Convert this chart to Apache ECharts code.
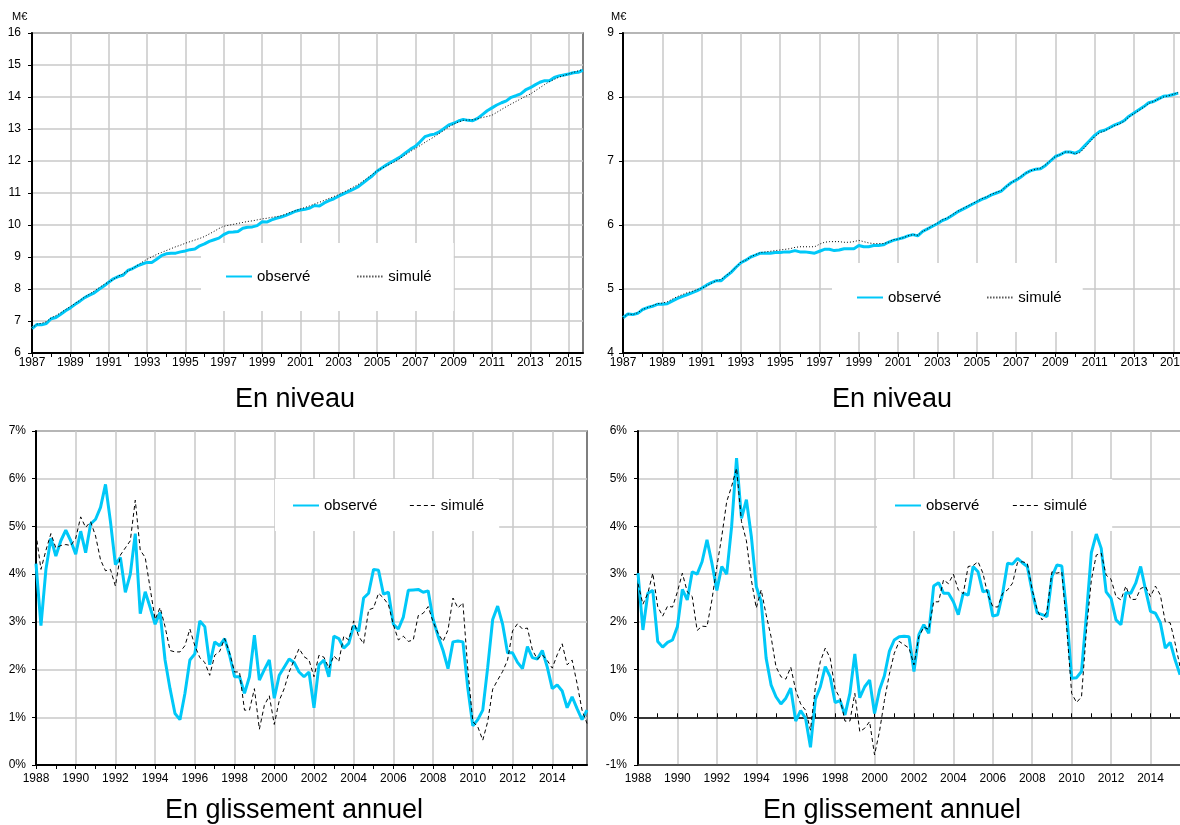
<!DOCTYPE html>
<html>
<head>
<meta charset="utf-8">
<script src="https://cdn.jsdelivr.net/npm/echarts@6/dist/echarts.min.js"></script>
<style>
html,body{margin:0;padding:0;background:#fff;}
#c{width:1180px;height:825px;}
</style>
</head>
<body>
<div id="c"></div>
<script>
// ---- tick labels / categories ----
const anneesNiveau = [1987,1988,1989,1990,1991,1992,1993,1994,1995,1996,1997,1998,1999,2000,2001,2002,2003,2004,2005,2006,2007,2008,2009,2010,2011,2012,2013,2014,2015];
const anneesGliss = [1988,1989,1990,1991,1992,1993,1994,1995,1996,1997,1998,1999,2000,2001,2002,2003,2004,2005,2006,2007,2008,2009,2010,2011,2012,2013,2014,2015];
const trimestres = ['T1','T2','T3','T4'];
const nomsSeries = ['observé', 'simulé'];
const sousTitres = ['En niveau', 'En niveau', 'En glissement annuel', 'En glissement annuel'];
const unite = 'M€';

// ---- top-left: level (M€), quarterly 1987T1..2015T4 ----
const niveauObserveG = [
 6.76,6.89,6.88,6.92, 7.07,7.11,7.21,7.32, 7.41,7.52,7.62,7.73, 7.81,7.88,7.99,8.09,
 8.21,8.32,8.39,8.43, 8.58,8.64,8.72,8.78, 8.83,8.83,8.93,9.04, 9.10,9.12,9.12,9.16,
 9.19,9.23,9.25,9.35, 9.41,9.49,9.54,9.59, 9.70,9.77,9.78,9.80, 9.90,9.93,9.94,9.98,
 10.10,10.09,10.16,10.21, 10.25,10.30,10.36,10.43, 10.47,10.49,10.53,10.61, 10.59,10.69,10.76,10.82,
 10.90,10.97,11.04,11.11, 11.19,11.30,11.42,11.53, 11.68,11.78,11.88,11.97, 12.05,12.14,12.26,12.37,
 12.46,12.60,12.76,12.81, 12.84,12.91,13.02,13.13, 13.18,13.25,13.30,13.27, 13.26,13.33,13.45,13.57,
 13.66,13.75,13.82,13.88, 13.99,14.04,14.10,14.22, 14.29,14.38,14.46,14.51, 14.51,14.61,14.66,14.69,
 14.72,14.76,14.77,14.84
];
const niveauSimuleG = [
 6.78,6.90,6.93,6.98, 7.10,7.17,7.26,7.36, 7.45,7.55,7.65,7.75, 7.84,7.94,8.04,8.14,
 8.22,8.30,8.40,8.48, 8.56,8.64,8.74,8.84, 8.93,9.00,9.08,9.14, 9.20,9.26,9.32,9.37,
 9.43,9.48,9.53,9.58, 9.64,9.72,9.80,9.89, 9.96,9.99,10.02,10.05, 10.08,10.11,10.13,10.16,
 10.19,10.21,10.24,10.26, 10.29,10.34,10.40,10.45, 10.50,10.55,10.60,10.66, 10.71,10.77,10.83,10.89,
 10.95,11.02,11.10,11.18, 11.26,11.36,11.47,11.58, 11.69,11.77,11.85,11.92, 12.00,12.10,12.20,12.30,
 12.39,12.48,12.58,12.67, 12.76,12.86,12.96,13.06, 13.15,13.22,13.27,13.28, 13.29,13.32,13.36,13.39,
 13.43,13.52,13.61,13.70, 13.78,13.86,13.94,14.02, 14.09,14.19,14.29,14.39, 14.48,14.55,14.62,14.67,
 14.72,14.77,14.82,14.86
];

// ---- top-right: level (M€), quarterly 1987T1..2015T4 ----
const niveauObserveD = [
 4.55,4.61,4.60,4.62, 4.68,4.71,4.73,4.76, 4.76,4.77,4.81,4.85, 4.88,4.91,4.94,4.97,
 5.01,5.06,5.10,5.13, 5.13,5.20,5.26,5.34, 5.41,5.45,5.50,5.53, 5.56,5.56,5.56,5.57,
 5.57,5.58,5.58,5.60, 5.58,5.58,5.57,5.56, 5.59,5.62,5.62,5.60, 5.61,5.63,5.63,5.63,
 5.68,5.66,5.66,5.68, 5.68,5.69,5.73,5.76, 5.78,5.80,5.83,5.85, 5.83,5.90,5.94,5.98,
 6.02,6.07,6.10,6.15, 6.20,6.24,6.28,6.32, 6.36,6.40,6.43,6.47, 6.50,6.53,6.60,6.66,
 6.70,6.75,6.81,6.85, 6.87,6.88,6.93,7.00, 7.07,7.10,7.14,7.14, 7.12,7.16,7.24,7.32,
 7.40,7.46,7.48,7.52, 7.56,7.59,7.63,7.70, 7.75,7.80,7.85,7.91, 7.93,7.97,8.01,8.02,
 8.04,8.06,null,null
];
const niveauSimuleD = [
 4.55,4.61,4.60,4.63, 4.68,4.71,4.74,4.77, 4.78,4.80,4.84,4.88, 4.91,4.94,4.96,4.99,
 5.01,5.05,5.09,5.13, 5.15,5.21,5.27,5.34, 5.42,5.45,5.50,5.54, 5.57,5.58,5.59,5.60,
 5.61,5.62,5.63,5.65, 5.66,5.66,5.66,5.66, 5.70,5.73,5.74,5.74, 5.74,5.73,5.73,5.74,
 5.76,5.74,5.72,5.71, 5.71,5.71,5.73,5.77, 5.78,5.80,5.83,5.85, 5.84,5.90,5.94,5.99,
 6.03,6.08,6.11,6.16, 6.21,6.25,6.29,6.33, 6.37,6.41,6.44,6.48, 6.51,6.54,6.60,6.66,
 6.71,6.76,6.81,6.85, 6.87,6.89,6.94,7.01, 7.07,7.10,7.14,7.14, 7.11,7.13,7.21,7.30,
 7.38,7.44,7.47,7.51, 7.55,7.58,7.62,7.69, 7.74,7.79,7.84,7.90, 7.93,7.97,8.00,8.02,
 8.04,8.07,null,null
];

// ---- bottom-left: annual growth (%), quarterly 1988T1..2015T4 ----
const glissObserveG = [
 4.22,2.92,4.10,4.75, 4.38,4.70,4.92,4.70, 4.42,4.90,4.45,5.05, 5.15,5.40,5.88,5.10,
 4.20,4.35,3.62,4.00, 4.85,3.17,3.63,3.30, 2.95,3.20,2.20,1.60, 1.08,0.95,1.50,2.20,
 2.33,3.02,2.90,2.10, 2.58,2.50,2.65,2.30, 1.85,1.85,1.50,1.85, 2.72,1.78,2.00,2.20,
 1.40,1.88,2.05,2.22, 2.15,1.95,1.85,1.95, 1.20,2.10,2.20,1.85, 2.70,2.65,2.45,2.55,
 2.92,2.80,3.50,3.60, 4.10,4.08,3.58,3.62, 2.95,2.85,3.10,3.66, 3.67,3.68,3.62,3.65,
 3.05,2.70,2.40,2.02, 2.58,2.60,2.58,1.60, 0.82,0.95,1.15,2.05, 3.05,3.33,2.95,2.35,
 2.35,2.15,2.02,2.48, 2.25,2.22,2.40,2.05, 1.60,1.68,1.55,1.20, 1.43,1.18,0.95,1.15
];
const glissSimuleG = [
 4.85,4.10,4.50,4.85, 4.55,4.60,4.62,4.60, 4.75,5.20,4.98,5.10, 4.80,4.30,4.07,4.10,
 3.75,4.40,4.55,4.70, 5.55,4.50,4.35,3.70, 3.05,3.30,2.90,2.40, 2.37,2.37,2.50,2.85,
 2.50,2.25,2.15,1.88, 2.30,2.38,2.65,2.35, 1.95,1.95,1.15,1.15, 1.60,0.75,1.25,1.45,
 0.85,1.35,1.60,1.95, 2.20,2.44,2.27,2.20, 1.85,2.30,2.26,2.03, 2.29,2.17,2.70,2.62,
 3.02,2.70,2.54,3.25, 3.29,3.60,3.50,3.36, 2.94,2.62,2.70,2.59, 2.62,3.13,3.18,3.32,
 3.00,2.76,2.59,2.83, 3.50,3.29,3.40,1.99, 0.91,0.80,0.52,0.91, 1.59,1.78,1.96,2.20,
 2.81,2.96,2.85,2.87, 2.41,2.22,2.31,2.19, 2.03,2.31,2.54,2.10, 2.20,1.71,1.15,0.87
];

// ---- bottom-right: annual growth (%), quarterly 1988T1..2015T4 ----
const glissObserveD = [
 3.02,1.83,2.60,2.66, 1.59,1.47,1.57,1.62, 1.90,2.68,2.46,3.05, 3.00,3.26,3.72,3.23,
 2.66,3.16,3.00,4.00, 5.43,4.17,4.56,3.79, 2.74,2.42,1.24,0.68, 0.43,0.28,0.40,0.61,
 -0.08,0.14,-0.02,-0.63, 0.38,0.64,1.06,0.85, 0.31,0.35,0.05,0.50, 1.33,0.41,0.64,0.78,
 0.08,0.57,0.87,1.38, 1.62,1.69,1.70,1.69, 0.96,1.73,1.94,1.76, 2.75,2.82,2.60,2.60,
 2.42,2.15,2.60,2.56, 3.16,3.05,2.63,2.66, 2.12,2.15,2.60,3.23, 3.21,3.33,3.24,3.16,
 2.63,2.19,2.15,2.11, 2.95,3.19,3.17,2.18, 0.82,0.83,0.96,2.15, 3.45,3.84,3.54,2.63,
 2.49,2.04,1.94,2.61, 2.60,2.81,3.16,2.67, 2.22,2.18,1.98,1.45, 1.57,1.20,0.89,null
];
const glissSimuleD = [
 2.80,2.37,2.60,3.02, 2.32,2.12,2.33,2.31, 2.63,3.02,2.63,2.53, 1.82,1.91,1.90,2.46,
 3.16,3.79,4.52,4.84, 5.22,4.10,3.70,2.88, 2.29,2.67,2.15,1.69, 1.06,0.85,0.80,1.05,
 0.57,0.28,0.15,-0.27, 0.64,1.17,1.45,1.24, 0.59,0.40,-0.08,-0.08, 0.50,-0.30,-0.23,-0.09,
 -0.79,-0.30,0.35,0.90, 1.34,1.59,1.52,1.45, 1.10,1.69,1.89,1.84, 2.42,2.42,2.88,2.80,
 3.00,2.67,2.59,3.16, 3.18,3.26,3.02,2.56, 2.32,2.31,2.60,2.67, 2.81,3.24,3.26,3.23,
 2.67,2.25,2.04,2.22, 3.05,3.02,3.05,1.87, 0.50,0.31,0.43,1.83, 2.88,3.40,3.44,2.98,
 2.89,2.53,2.46,2.75, 2.47,2.47,2.70,2.74, 2.53,2.75,2.56,2.00, 1.98,1.55,1.06,null
];

// ---- build chart ----
const catNiveau = anneesNiveau.flatMap(a => trimestres.map(t => a + ' ' + t));
const catGliss = anneesGliss.flatMap(a => trimestres.map(t => a + ' ' + t));

const FONT = '"Liberation Sans", Arial, sans-serif';
const CYAN = '#00C8F8';
const GRIDC = '#c8c8c8';
const every8 = (i) => i % 8 === 0;
const every4 = (i) => i % 4 === 0;

function catAxis(gridIndex, cats, margin, extra) {
  return Object.assign({
    type: 'category', gridIndex: gridIndex, data: cats, boundaryGap: false, z: 0,
    axisLine: { show: true, onZero: true, lineStyle: { color: '#000', width: 2 } },
    axisTick: { show: true, interval: every4, length: 4, inside: false, lineStyle: { color: '#000', width: 1 } },
    axisLabel: { show: true, interval: every8, margin: margin, color: '#000', fontSize: 12, fontFamily: FONT,
                 formatter: (v) => v.slice(0, 4), hideOverlap: false },
    splitLine: { show: true, interval: every8, lineStyle: { color: GRIDC, width: 1.5 } }
  }, extra || {});
}
function valAxis(gridIndex, min, max, margin, fmt) {
  return {
    type: 'value', gridIndex: gridIndex, min: min, max: max, interval: 1, z: 0,
    axisLine: { show: true, lineStyle: { color: '#000', width: 2 } },
    axisTick: { show: true, length: 4, lineStyle: { color: '#000', width: 1 } },
    axisLabel: { show: true, margin: margin, color: '#000', fontSize: 12, fontFamily: FONT, formatter: fmt },
    splitLine: { show: true, lineStyle: { color: GRIDC, width: 1.5 } }
  };
}
function gridBox(left, top, width, height) {
  return { left: left, top: top, width: width, height: height, containLabel: false, outerBoundsMode: 'none',
           show: true, borderColor: '#555', borderWidth: 1.5, backgroundColor: 'transparent' };
}
function obsSeries(name, xi, yi, data) {
  return { name: name, type: 'line', xAxisIndex: xi, yAxisIndex: yi, data: data, symbol: 'none',
           connectNulls: false, lineStyle: { color: CYAN, width: 3 }, itemStyle: { color: CYAN }, z: 3, animation: false };
}
function simSeries(name, xi, yi, data, dash) {
  return { name: name, type: 'line', xAxisIndex: xi, yAxisIndex: yi, data: data, symbol: 'none',
           connectNulls: false, lineStyle: { color: '#000', width: 1, type: dash }, itemStyle: { color: '#000' }, z: 4, animation: false };
}
function legendBox(left, top, padding, gap, dashed) {
  const simItem = dashed
    ? { name: nomsSeries[1], lineStyle: { type: [4, 3], width: 1, color: '#000' } }
    : { name: nomsSeries[1] };
  return {
    left: left, top: top, orient: 'horizontal', padding: padding, itemGap: gap, z: 1,
    itemWidth: 26, itemHeight: 14, backgroundColor: '#fff', selectedMode: false,
    itemStyle: { opacity: 0, borderWidth: 0 },
    textStyle: { color: '#000', fontSize: 15, fontFamily: FONT },
    data: [{ name: nomsSeries[0] }, simItem]
  };
}
function subTitle(text, cx, top) {
  return { text: text, left: cx, top: top, textAlign: 'center', padding: 0,
           textStyle: { color: '#000', fontSize: 27, fontWeight: 'normal', fontFamily: FONT } };
}

const option = {
  backgroundColor: '#fff',
  animation: false,
  title: [
    subTitle(sousTitres[0], 295, 386),
    subTitle(sousTitres[1], 892, 386),
    subTitle(sousTitres[2], 294, 797),
    subTitle(sousTitres[3], 892, 797)
  ],
  graphic: [
    { type: 'text', left: 12, top: 11, style: { text: unite, font: '11px ' + FONT, fill: '#000' } },
    { type: 'text', left: 611, top: 11, style: { text: unite, font: '11px ' + FONT, fill: '#000' } }
  ],
  grid: [
    gridBox(32, 33, 551, 320),
    gridBox(623, 33, 565, 320),
    gridBox(36, 431, 551, 334),
    gridBox(638, 431, 547, 334)
  ],
  xAxis: [
    catAxis(0, catNiveau, 4),
    catAxis(1, catNiveau, 4),
    catAxis(2, catGliss, 8),
    catAxis(3, catGliss, 8, {
      axisLine: { show: true, onZero: false, lineStyle: { color: '#333', width: 1.5 } },
      axisTick: { show: false }
    }),
    catAxis(3, catGliss, 8, {
      axisLine: { show: true, onZero: true, lineStyle: { color: '#000', width: 1.5 } },
      axisLabel: { show: false },
      splitLine: { show: false }
    })
  ],
  yAxis: [
    valAxis(0, 6, 16, 11, '{value}'),
    valAxis(1, 4, 9, 9, '{value}'),
    valAxis(2, 0, 7, 10, '{value}%'),
    valAxis(3, -1, 6, 11, '{value}%')
  ],
  legend: [
    legendBox(201, 243, [26, 22, 27, 24], 46, false),
    legendBox(832, 263, [27, 21, 27, 24], 45, false),
    legendBox(275, 479, [19, 15, 18, 17], 32, true),
    legendBox(877, 479, [19, 25, 18, 17], 33, true)
  ],
  series: [
    obsSeries(nomsSeries[0], 0, 0, niveauObserveG),
    simSeries(nomsSeries[1], 0, 0, niveauSimuleG, [1, 2]),
    obsSeries(nomsSeries[0], 1, 1, niveauObserveD),
    simSeries(nomsSeries[1], 1, 1, niveauSimuleD, [1, 2]),
    obsSeries(nomsSeries[0], 2, 2, glissObserveG),
    simSeries(nomsSeries[1], 2, 2, glissSimuleG, [4, 3]),
    obsSeries(nomsSeries[0], 3, 3, glissObserveD),
    simSeries(nomsSeries[1], 3, 3, glissSimuleD, [4, 3])
  ]
};

const chart = echarts.init(document.getElementById('c'), null, { renderer: 'canvas', width: 1180, height: 825 });
chart.setOption(option);
</script>
</body>
</html>
